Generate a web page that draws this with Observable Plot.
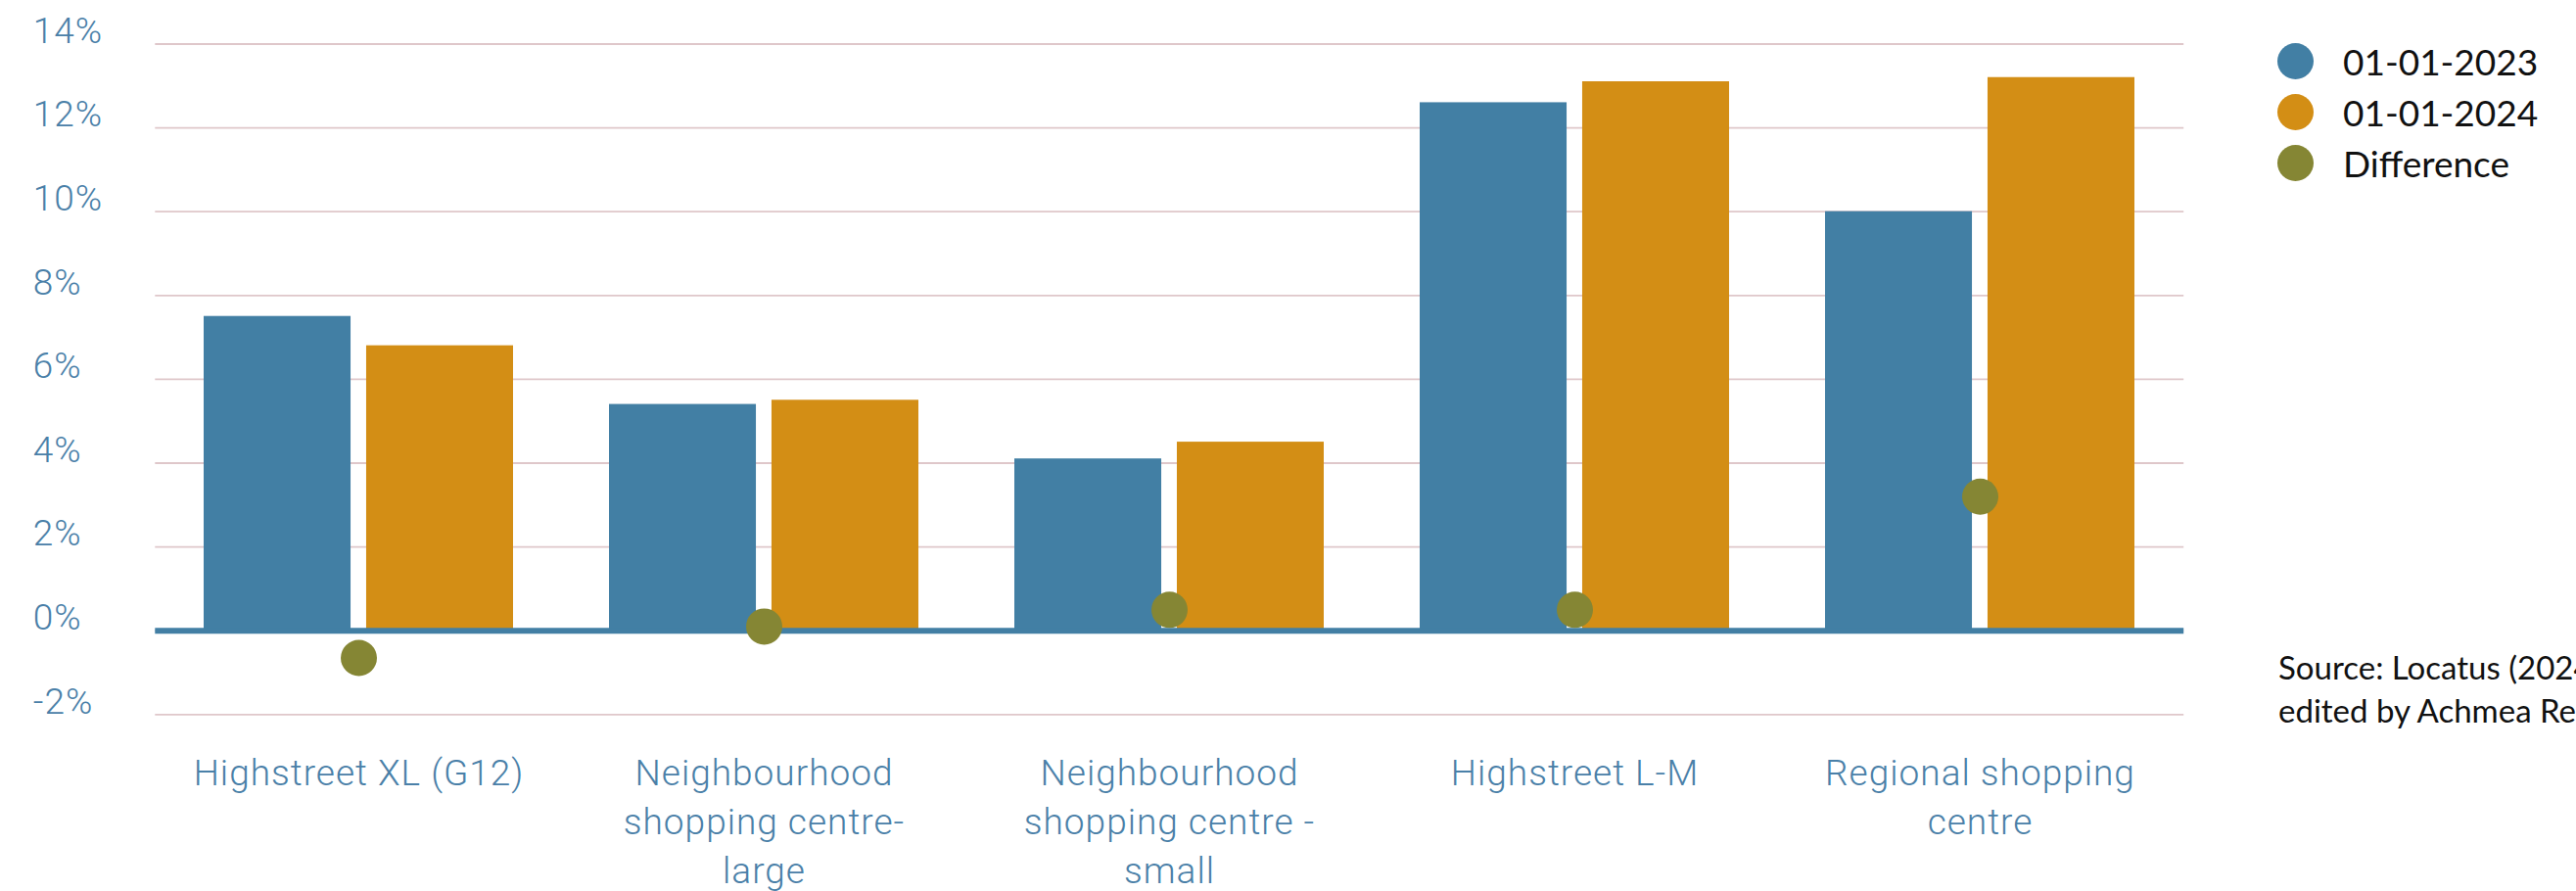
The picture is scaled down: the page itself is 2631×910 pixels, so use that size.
<!DOCTYPE html>
<html>
<head>
<meta charset="utf-8">
<script src="https://cdn.jsdelivr.net/npm/d3@7"></script>
<script src="https://cdn.jsdelivr.net/npm/@observablehq/plot@0.6"></script>
<style>
  html, body { margin: 0; padding: 0; background: #fff; overflow: hidden; }
  #wrap { position: relative; width: 2631px; height: 910px; }
  #chart { position: absolute; left: 0; top: 0; }
  #chart svg text { letter-spacing: 1px; }
  #legend { position: absolute; left: 2326px; top: 36px; font-family: Lato, "Open Sans", sans-serif; font-size: 37px; color: #111; }
  .row { display: flex; align-items: center; height: 52px; white-space: nowrap; }
  .sw { width: 37px; height: 37px; border-radius: 50%; margin-right: 30px; flex: none; }
  #source { position: absolute; left: 2327px; top: 659px; font-family: Lato, "Open Sans", sans-serif; font-size: 33px; line-height: 44px; color: #111; white-space: nowrap; }
</style>
</head>
<body>
<div id="wrap">
  <div id="chart"></div>
  <div id="legend"></div>
  <div id="source">Source: Locatus (2024),<br>edited by Achmea Real Estate</div>
</div>
<script>
// ---- data ----
const categories = [
  "Highstreet XL (G12)",
  "Neighbourhood shopping centre-large",
  "Neighbourhood shopping centre -small",
  "Highstreet L-M",
  "Regional shopping centre"
];
const tickLabels = [
  "Highstreet XL (G12)",
  "Neighbourhood\nshopping centre-\nlarge",
  "Neighbourhood\nshopping centre -\nsmall",
  "Highstreet L-M",
  "Regional shopping\ncentre"
];
const seriesNames = ["01-01-2023", "01-01-2024", "Difference"];
const values2023 = [7.5, 5.4, 4.1, 12.6, 10.0];
const values2024 = [6.8, 5.5, 4.5, 13.1, 13.2];
const difference = [-0.65, 0.1, 0.5, 0.5, 3.2];
const yTicks = [-2, 0, 2, 4, 6, 8, 10, 12, 14];

// ---- styling ----
const colors = ["#427fa4", "#d38e15", "#858634"];
const tickColor = "#4a80a8";
const gridColor = "#dfc7ca";
const tickFont = "Roboto, 'Liberation Sans', sans-serif";

const rows2023 = categories.map((c, i) => ({category: c, series: seriesNames[0], value: values2023[i]}));
const rows2024 = categories.map((c, i) => ({category: c, series: seriesNames[1], value: values2024[i]}));
const rowsDiff = categories.map((c, i) => ({category: c, series: seriesNames[2], value: difference[i]}));
const labelOf = new Map(categories.map((c, i) => [c, tickLabels[i]]));

const W = 2631, H = 910;
const mL = 158.3, mR = W - 2230.2, mT = 44.5, mB = H - 729.3;
const padInner = 0.2375, padOuter = 0.11875;
const step = (W - mL - mR) / categories.length;
const bandwidth = step * (1 - padInner);
const barW = 150;
const inset = bandwidth - barW;

const chart = Plot.plot({
  width: W,
  height: H,
  marginLeft: mL,
  marginRight: mR,
  marginTop: mT,
  marginBottom: mB,
  style: {fontFamily: tickFont, background: "transparent"},
  x: {domain: categories, paddingInner: padInner, paddingOuter: padOuter},
  y: {domain: [-2, 14]},
  color: {domain: seriesNames, range: colors},
  marks: [
    Plot.ruleY(yTicks, {stroke: gridColor, strokeWidth: 1.8}),
    Plot.barY(rows2023, {x: "category", y: "value", fill: "series", insetRight: inset}),
    Plot.barY(rows2024, {x: "category", y: "value", fill: "series", insetLeft: inset}),
    Plot.ruleY([0], {stroke: colors[0], strokeWidth: 6}),
    Plot.dot(rowsDiff, {x: "category", y: "value", r: 18.5, fill: "series", stroke: null}),
    Plot.axisY({
      ticks: yTicks, tickFormat: d => d + "%", tickSize: 0, tickPadding: 0,
      textAnchor: "start", dx: -125, dy: -13, fontSize: 37, fill: tickColor, fontWeight: 300, label: null
    }),
    Plot.axisX({
      tickSize: 0, tickPadding: 37, tickFormat: d => labelOf.get(d), lineHeight: 1.35,
      fontSize: 37, fill: tickColor, fontWeight: 300, label: null
    })
  ]
});
document.getElementById("chart").appendChild(chart);

// legend
const legend = document.getElementById("legend");
seriesNames.forEach((s, i) => {
  const row = document.createElement("div");
  row.className = "row";
  const sw = document.createElement("span");
  sw.className = "sw";
  sw.style.background = colors[i];
  const t = document.createElement("span");
  t.textContent = s;
  row.appendChild(sw);
  row.appendChild(t);
  legend.appendChild(row);
});
</script>
</body>
</html>
